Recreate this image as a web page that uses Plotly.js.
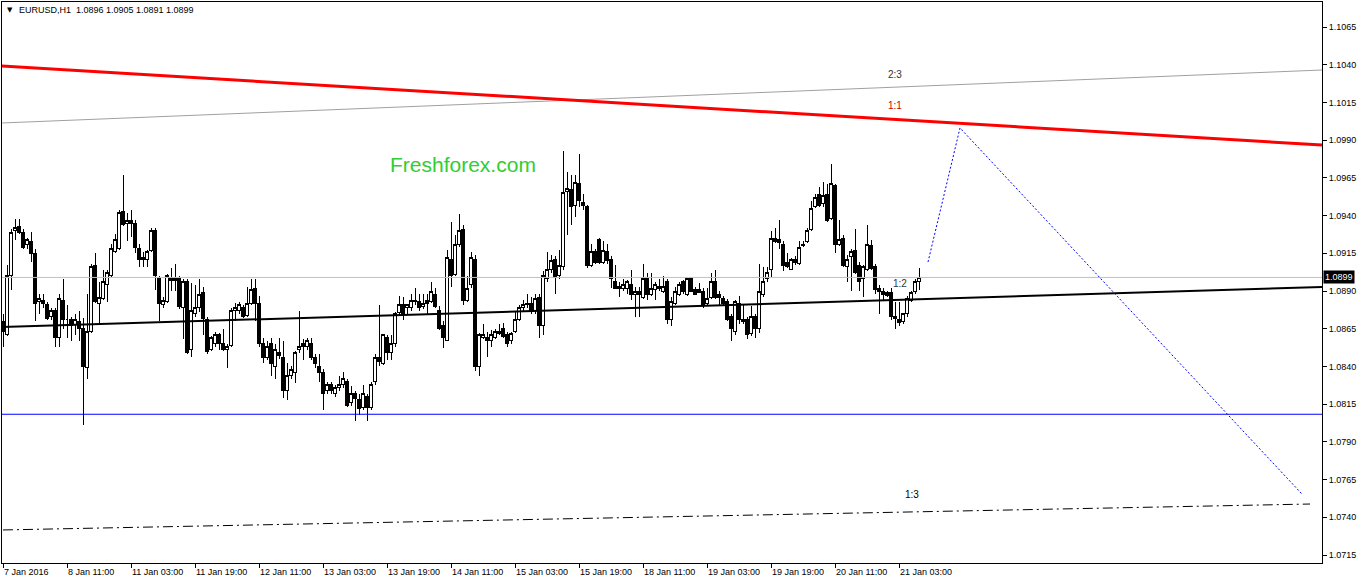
<!DOCTYPE html>
<html>
<head>
<meta charset="utf-8">
<script src="https://cdn.plot.ly/plotly-3.0.1.min.js"></script>
<style>
  html, body { margin: 0; padding: 0; background: #fff; }
  #chart { width: 1362px; height: 584px; }
  #chart .boxlayer path { shape-rendering: crispEdges; }
</style>
</head>
<body>
<div id="chart"></div>
<script>
// EURUSD H1, bars from 7 Jan 2016 to 21 Jan 2016
const open = [
  1.0870,1.0861,1.0900,1.0930,1.0933,1.0929,1.0921,1.0923,1.0915,1.0883,
  1.0884,1.0881,1.0873,1.0877,1.0859,1.0884,1.0871,1.0871,1.0868,1.0870,
  1.0865,1.0839,1.0863,1.0907,1.0882,1.0885,1.0894,1.0900,1.0916,1.0918,
  1.0943,1.0935,1.0937,1.0935,1.0918,1.0912,1.0911,1.0917,1.0930,1.0898,
  1.0881,1.0883,1.0899,1.0898,1.0898,1.0879,1.0896,1.0851,1.0875,1.0879,
  1.0889,1.0871,1.0851,1.0855,1.0861,1.0855,1.0851,1.0854,1.0877,1.0877,
  1.0879,1.0874,1.0882,1.0892,1.0882,1.0855,1.0846,1.0855,1.0840,1.0849,
  1.0846,1.0824,1.0834,1.0836,1.0851,1.0855,1.0853,1.0855,1.0846,1.0840,
  1.0836,1.0824,1.0828,1.0822,1.0826,1.0828,1.0830,1.0816,1.0822,1.0818,
  1.0813,1.0820,1.0813,1.0830,1.0846,1.0842,1.0859,1.0849,1.0855,1.0876,
  1.0881,1.0879,1.0879,1.0883,1.0883,1.0880,1.0884,1.0883,1.0888,1.0877,
  1.0867,1.0857,1.0911,1.0901,1.0921,1.0931,1.0884,1.0894,1.0911,1.0840,
  1.0859,1.0859,1.0857,1.0859,1.0862,1.0865,1.0861,1.0857,1.0863,1.0871,
  1.0879,1.0881,1.0882,1.0877,1.0886,1.0867,1.0898,1.0904,1.0911,1.0900,
  1.0906,1.0956,1.0957,1.0947,1.0961,1.0949,1.0946,1.0907,1.0916,1.0924,
  1.0909,1.0916,1.0911,1.0896,1.0893,1.0892,1.0892,1.0894,1.0888,1.0890,
  1.0886,1.0898,1.0888,1.0891,1.0893,1.0890,1.0896,1.0871,1.0882,1.0888,
  1.0896,1.0888,1.0898,1.0891,1.0891,1.0890,1.0882,1.0886,1.0896,1.0888,
  1.0885,1.0883,1.0873,1.0863,1.0882,1.0871,1.0871,1.0862,1.0873,1.0865,
  1.0888,1.0898,1.0904,1.0925,1.0924,1.0921,1.0909,1.0904,1.0911,1.0908,
  1.0920,1.0923,1.0931,1.0946,1.0954,1.0948,1.0954,1.0938,1.0960,1.0921,
  1.0925,1.0906,1.0913,1.0917,1.0907,1.0898,1.0904,1.0920,1.0906,1.0892,
  1.0890,1.0889,1.0889,1.0873,1.0871,1.0870,1.0875,1.0884,1.0890,1.0896
];
const high = [
  1.0875,1.0907,1.0931,1.0938,1.0938,1.0931,1.0925,1.0929,1.0918,1.0888,
  1.0888,1.0883,1.0879,1.0879,1.0888,1.0898,1.0881,1.0873,1.0875,1.0877,
  1.0872,1.0888,1.0908,1.0915,1.0896,1.0904,1.0904,1.0921,1.0928,1.0944,
  1.0967,1.0942,1.0944,1.0937,1.0921,1.0916,1.0917,1.0932,1.0932,1.0900,
  1.0886,1.0901,1.0905,1.0908,1.0900,1.0898,1.0898,1.0895,1.0894,1.0898,
  1.0893,1.0873,1.0860,1.0863,1.0862,1.0865,1.0855,1.0879,1.0882,1.0883,
  1.0881,1.0893,1.0898,1.0898,1.0887,1.0859,1.0857,1.0859,1.0855,1.0859,
  1.0857,1.0842,1.0840,1.0850,1.0877,1.0858,1.0859,1.0859,1.0848,1.0848,
  1.0838,1.0830,1.0830,1.0828,1.0834,1.0836,1.0832,1.0827,1.0824,1.0822,
  1.0828,1.0822,1.0830,1.0848,1.0881,1.0861,1.0861,1.0861,1.0876,1.0887,
  1.0886,1.0881,1.0888,1.0892,1.0888,1.0888,1.0888,1.0896,1.0892,1.0880,
  1.0870,1.0917,1.0936,1.0927,1.0941,1.0934,1.0900,1.0916,1.0914,1.0862,
  1.0868,1.0863,1.0864,1.0865,1.0868,1.0869,1.0863,1.0863,1.0877,1.0881,
  1.0884,1.0888,1.0886,1.0888,1.0888,1.0903,1.0916,1.0914,1.0913,1.0917,
  1.0983,1.0969,1.0967,1.0967,1.0981,1.0954,1.0947,1.0921,1.0918,1.0925,
  1.0923,1.0921,1.0913,1.0907,1.0896,1.0898,1.0897,1.0904,1.0893,1.0893,
  1.0908,1.0902,1.0902,1.0896,1.0898,1.0900,1.0898,1.0886,1.0893,1.0896,
  1.0897,1.0898,1.0899,1.0893,1.0895,1.0892,1.0892,1.0902,1.0904,1.0890,
  1.0887,1.0885,1.0875,1.0884,1.0887,1.0881,1.0873,1.0880,1.0875,1.0908,
  1.0906,1.0906,1.0930,1.0932,1.0937,1.0923,1.0915,1.0912,1.0913,1.0923,
  1.0923,1.0932,1.0950,1.0954,1.0959,1.0962,1.0961,1.0974,1.0961,1.0937,
  1.0927,1.0914,1.0918,1.0931,1.0909,1.0907,1.0934,1.0924,1.0908,1.0894,
  1.0892,1.0890,1.0892,1.0883,1.0883,1.0875,1.0887,1.0890,1.0898,1.0905
];
const low = [
  1.0853,1.0860,1.0891,1.0924,1.0928,1.0918,1.0918,1.0909,1.0870,1.0875,
  1.0879,1.0871,1.0871,1.0853,1.0853,1.0865,1.0859,1.0857,1.0861,1.0857,
  1.0801,1.0832,1.0862,1.0882,1.0868,1.0884,1.0883,1.0899,1.0915,1.0917,
  1.0933,1.0923,1.0926,1.0915,1.0906,1.0906,1.0906,1.0916,1.0891,1.0870,
  1.0879,1.0882,1.0890,1.0890,1.0878,1.0858,1.0848,1.0846,1.0873,1.0876,
  1.0861,1.0848,1.0850,1.0853,1.0851,1.0850,1.0839,1.0853,1.0870,1.0875,
  1.0872,1.0873,1.0881,1.0870,1.0853,1.0842,1.0844,1.0834,1.0832,1.0845,
  1.0819,1.0818,1.0832,1.0829,1.0849,1.0844,1.0851,1.0844,1.0839,1.0830,
  1.0811,1.0822,1.0822,1.0820,1.0824,1.0826,1.0813,1.0814,1.0804,1.0808,
  1.0811,1.0804,1.0811,1.0828,1.0840,1.0841,1.0844,1.0844,1.0853,1.0874,
  1.0871,1.0875,1.0877,1.0881,1.0877,1.0878,1.0875,1.0882,1.0879,1.0864,
  1.0852,1.0857,1.0893,1.0900,1.0919,1.0881,1.0883,1.0892,1.0837,1.0834,
  1.0858,1.0846,1.0853,1.0858,1.0861,1.0859,1.0853,1.0855,1.0862,1.0870,
  1.0877,1.0879,1.0875,1.0875,1.0859,1.0861,1.0896,1.0902,1.0888,1.0898,
  1.0904,1.0927,1.0934,1.0939,1.0946,1.0944,1.0905,1.0906,1.0908,1.0908,
  1.0908,1.0908,1.0892,1.0892,1.0886,1.0890,1.0888,1.0884,1.0873,1.0873,
  1.0885,1.0884,1.0887,1.0884,1.0890,1.0889,1.0868,1.0867,1.0881,1.0887,
  1.0888,1.0887,1.0890,1.0888,1.0889,1.0879,1.0880,1.0885,1.0885,1.0881,
  1.0880,1.0870,1.0857,1.0861,1.0868,1.0868,1.0858,1.0860,1.0859,1.0862,
  1.0886,1.0896,1.0899,1.0922,1.0918,1.0903,1.0905,1.0904,1.0907,1.0907,
  1.0919,1.0922,1.0930,1.0945,1.0946,1.0946,1.0936,1.0937,1.0915,1.0920,
  1.0906,1.0896,1.0890,1.0901,1.0890,1.0886,1.0903,1.0904,1.0888,1.0875,
  1.0884,1.0886,1.0871,1.0865,1.0867,1.0868,1.0873,1.0883,1.0888,1.0891
];
const close = [
  1.0863,1.0900,1.0929,1.0932,1.0929,1.0919,1.0924,1.0915,1.0882,1.0885,
  1.0882,1.0872,1.0877,1.0859,1.0885,1.0871,1.0871,1.0867,1.0871,1.0865,
  1.0840,1.0863,1.0906,1.0883,1.0886,1.0896,1.0902,1.0918,1.0924,1.0942,
  1.0934,1.0937,1.0935,1.0919,1.0911,1.0911,1.0916,1.0930,1.0900,1.0882,
  1.0884,1.0900,1.0897,1.0897,1.0880,1.0896,1.0849,1.0877,1.0879,1.0888,
  1.0872,1.0850,1.0859,1.0861,1.0855,1.0851,1.0853,1.0877,1.0879,1.0881,
  1.0873,1.0882,1.0891,1.0882,1.0855,1.0846,1.0853,1.0842,1.0851,1.0847,
  1.0824,1.0834,1.0838,1.0849,1.0853,1.0853,1.0857,1.0846,1.0842,1.0836,
  1.0822,1.0828,1.0824,1.0826,1.0828,1.0832,1.0814,1.0822,1.0819,1.0812,
  1.0822,1.0813,1.0828,1.0846,1.0843,1.0861,1.0849,1.0855,1.0875,1.0881,
  1.0875,1.0881,1.0884,1.0884,1.0879,1.0882,1.0882,1.0890,1.0880,1.0865,
  1.0859,1.0912,1.0900,1.0921,1.0930,1.0884,1.0892,1.0912,1.0840,1.0861,
  1.0861,1.0857,1.0861,1.0863,1.0863,1.0860,1.0855,1.0862,1.0871,1.0879,
  1.0881,1.0882,1.0877,1.0885,1.0867,1.0900,1.0904,1.0910,1.0899,1.0907,
  1.0955,1.0958,1.0946,1.0962,1.0950,1.0947,1.0907,1.0916,1.0909,1.0909,
  1.0917,1.0910,1.0898,1.0892,1.0892,1.0894,1.0896,1.0888,1.0890,1.0888,
  1.0898,1.0888,1.0892,1.0894,1.0892,1.0893,1.0871,1.0883,1.0890,1.0894,
  1.0890,1.0898,1.0890,1.0888,1.0889,1.0881,1.0885,1.0896,1.0886,1.0886,
  1.0882,1.0871,1.0865,1.0883,1.0871,1.0870,1.0861,1.0873,1.0865,1.0890,
  1.0896,1.0902,1.0925,1.0923,1.0922,1.0907,1.0906,1.0911,1.0909,1.0919,
  1.0921,1.0930,1.0945,1.0952,1.0947,1.0953,1.0937,1.0961,1.0921,1.0924,
  1.0907,1.0911,1.0916,1.0902,1.0896,1.0906,1.0921,1.0905,1.0891,1.0890,
  1.0888,1.0887,1.0873,1.0872,1.0869,1.0875,1.0885,1.0889,1.0896,1.0899
];

// time axis labels, one every 16 bars
const tickBars = [0, 16, 32, 48, 64, 80, 96, 112, 128, 144, 160, 176, 192, 208, 224];
const tickTimes = ['7 Jan 2016', '8 Jan 11:00', '11 Jan 03:00', '11 Jan 19:00', '12 Jan 11:00',
  '13 Jan 03:00', '13 Jan 19:00', '14 Jan 11:00', '15 Jan 03:00', '15 Jan 19:00',
  '18 Jan 11:00', '19 Jan 03:00', '19 Jan 19:00', '20 Jan 11:00', '21 Jan 03:00'];
const priceTicks = [1.0715, 1.0740, 1.0765, 1.0790, 1.0815, 1.0840, 1.0865, 1.0890,
  1.0915, 1.0940, 1.0965, 1.0990, 1.1015, 1.1040, 1.1065];

// drawn objects (bar number, price)
const lineBars = [-0.25, 329.75];
const redChannel = [1.10391, 1.09868];
const grayChannel = [1.10014, 1.10365];
const blackChannel = [1.08661, 1.08927];
const support = 1.08083;
const lastPrice = 1.0899;
const dashDotBars = [0, 326.75];
const dashDotPrices = [1.07316, 1.07488];
const forecastBars = [231.25, 239.25, 324.75];
const forecastPrices = [1.09092, 1.09981, 1.07554];

const bars = open.map((_, i) => i);

const candles = {
  type: 'candlestick',
  x: bars, open: open, high: high, low: low, close: close,
  increasing: {line: {color: 'black', width: 1}, fillcolor: 'white'},
  decreasing: {line: {color: 'black', width: 1}, fillcolor: 'black'},
  whiskerwidth: 0,
  hoverinfo: 'skip',
  showlegend: false
};

function line(x, y, color, width, dash) {
  return {
    type: 'scatter', mode: 'lines', x: x, y: y,
    line: {color: color, width: width, dash: dash || 'solid'},
    hoverinfo: 'skip', showlegend: false
  };
}

const data = [
  line(lineBars, [lastPrice, lastPrice], '#c0c0c0', 1),
  line(lineBars, [support, support], '#0000ff', 1),
  candles,
  line(lineBars, grayChannel, '#a0a0a0', 1),
  line(lineBars, redChannel, '#ff0000', 3),
  line(lineBars, blackChannel, '#000000', 2),
  line(dashDotBars, dashDotPrices, '#000000', 1, '10px,4px,2px,4px'),
  line(forecastBars, forecastPrices, '#0000ff', 1, '2px,2px')
];

const small = {family: 'Liberation Sans, Arial, sans-serif', size: 9, color: '#000'};
const ratioFont = (c) => ({family: 'Liberation Sans, Arial, sans-serif', size: 10, color: c});

const layout = {
  width: 1362, height: 584,
  margin: {l: 2, r: 40, t: 2, b: 21},
  paper_bgcolor: '#fff', plot_bgcolor: '#fff',
  boxgap: 0.2,
  xaxis: {
    range: [-0.25, 329.75],
    tickvals: tickBars, ticktext: tickTimes,
    ticks: 'outside', ticklen: 4, tickcolor: '#000',
    ticklabelposition: 'outside right',
    tickfont: small,
    showgrid: false, zeroline: false,
    showline: true, mirror: true, linecolor: '#000', linewidth: 1,
    rangeslider: {visible: false},
    fixedrange: true
  },
  yaxis: {
    side: 'right',
    range: [1.07097, 1.10816],
    tickvals: priceTicks, tickformat: '.4f',
    ticks: 'outside', ticklen: 4, tickcolor: '#000',
    tickfont: small,
    showgrid: false, zeroline: false,
    showline: true, mirror: true, linecolor: '#000', linewidth: 1,
    fixedrange: true
  },
  annotations: [
    {xref: 'paper', yref: 'paper', x: 0.002, y: 0.997, xanchor: 'left', yanchor: 'top',
     text: '\u25BC', showarrow: false, font: {family: 'DejaVu Sans', size: 7, color: '#000'}},
    {xref: 'paper', yref: 'paper', x: 0.011, y: 0.999, xanchor: 'left', yanchor: 'top',
     text: 'EURUSD,H1  1.0896 1.0905 1.0891 1.0899', showarrow: false, font: small},
    {x: 115, y: 1.09742, text: 'Freshforex.com', showarrow: false,
     font: {family: 'Liberation Sans, Arial, sans-serif', size: 21, color: '#32cd32'}},
    {x: 223, y: 1.10338, text: '2:3', showarrow: false, font: ratioFont('#333')},
    {x: 223, y: 1.10133, text: '1:1', showarrow: false, font: ratioFont('#cc0000')},
    {x: 224.25, y: 1.08953, text: '1:2', showarrow: false, font: ratioFont('#333')},
    {x: 227.25, y: 1.07548, text: '1:3', showarrow: false, font: ratioFont('#000')},
    {xref: 'paper', x: 1, y: lastPrice, xanchor: 'left', xshift: 1,
     text: '1.0899', showarrow: false, bgcolor: '#000', borderpad: 1,
     font: {family: 'Liberation Sans', size: 9, color: '#fff'}}
  ]
};

Plotly.newPlot('chart', data, layout, {staticPlot: true, displayModeBar: false});
</script>
</body>
</html>
